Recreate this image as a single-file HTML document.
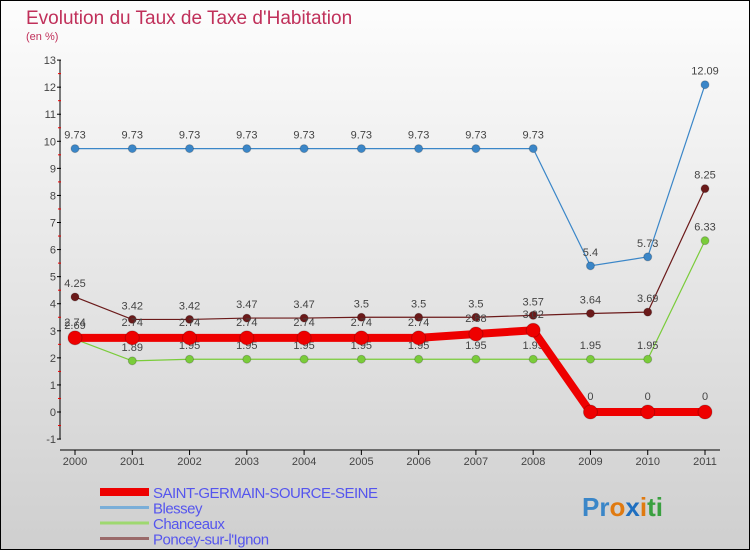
<!DOCTYPE html>
<html><head><meta charset="utf-8"><style>
body{margin:0}
#c{width:750px;height:550px;position:relative;box-sizing:border-box;border:1px solid #000;background:linear-gradient(#fdfdfd,#cfcfcf);font-family:"Liberation Sans",sans-serif;overflow:hidden}
</style></head><body>
<div id="c">
<svg width="750" height="550" style="position:absolute;left:-1px;top:-1px" font-family="Liberation Sans, sans-serif">
<text x="26" y="24" font-size="19" fill="#c0305a">Evolution du Taux de Taxe d'Habitation</text>
<text x="26" y="40" font-size="11" fill="#c0305a">(en %)</text>
<g id="axes"></g><g id="series"></g><g id="legend"></g>
<text x="582" y="516" font-size="26" font-weight="bold"><tspan fill="#3a86c8">Pr</tspan><tspan fill="#e07a10">o</tspan><tspan fill="#1f6fc0">x</tspan><tspan fill="#e07a10">i</tspan><tspan fill="#3aa040">ti</tspan></text>
</svg>
</div>
<script>
const years=[2000,2001,2002,2003,2004,2005,2006,2007,2008,2009,2010,2011];
const yTicks=[-1,0,1,2,3,4,5,6,7,8,9,10,11,12,13];
const sgss=[2.74,2.74,2.74,2.74,2.74,2.74,2.74,2.88,3.02,0,0,0];
const blessey=[9.73,9.73,9.73,9.73,9.73,9.73,9.73,9.73,9.73,5.4,5.73,12.09];
const chanceaux=[2.69,1.89,1.95,1.95,1.95,1.95,1.95,1.95,1.95,1.95,1.95,6.33];
const poncey=[4.25,3.42,3.42,3.47,3.47,3.5,3.5,3.5,3.57,3.64,3.69,8.25];
const names=["SAINT-GERMAIN-SOURCE-SEINE","Blessey","Chanceaux","Poncey-sur-l'Ignon"];
const NS="http://www.w3.org/2000/svg";
const X=i=>75+i*(630/(years.length-1));
const Y=v=>412-v*27.07;
function mk(t,a,p){const e=document.createElementNS(NS,t);for(const k in a)e.setAttribute(k,a[k]);p.appendChild(e);return e;}
const ax=document.getElementById('axes');
const yl=mk('line',{x1:60,y1:Y(13),x2:60,y2:Y(-1),stroke:'#000'},ax);


yTicks.forEach(v=>{
 mk('line',{x1:57,y1:Y(v),x2:61,y2:Y(v),stroke:'#000'},ax);
 if(v<13)mk('line',{x1:58,y1:Y(v+0.5),x2:61,y2:Y(v+0.5),stroke:'#e00'},ax);
 const t=mk('text',{x:56,y:Y(v)+4,'font-size':11,'text-anchor':'end',fill:'#444'},ax);t.textContent=v;
 
 
});
const xl=mk('line',{x1:60,y1:450,x2:720,y2:450,stroke:'#000'},ax);


years.forEach((y,i)=>{
 mk('line',{x1:X(i),y1:450,x2:X(i),y2:455,stroke:'#000'},ax);
 const t=mk('text',{x:X(i),y:465,'font-size':11,'text-anchor':'middle',fill:'#444'},ax);t.textContent=y;
 
 
});
const sg=document.getElementById('series');
function series(data,color,w,r,name,labelDy){
 const g=mk('g',{},sg);
 
 
 mk('polyline',{points:data.map((v,i)=>X(i)+','+Y(v)).join(' '),fill:'none',stroke:color,'stroke-width':w},g);
 data.forEach((v,i)=>{
  const c=mk('circle',{cx:X(i),cy:Y(v),r:r,fill:color,stroke:'rgba(0,0,0,0.2)'},g);
  
  
  const t=mk('text',{x:X(i),y:Y(v)+labelDy,'font-size':11,'text-anchor':'middle',fill:'#444'},g);t.textContent=v;
 });
}
series(blessey,'#3a86c8',1.2,4,'blessey-series',-10);
series(chanceaux,'#7acc3a',1.2,4,'chanceaux-series',-10);
series(poncey,'#6b1a1a',1.2,4,'poncey-series',-10);
series(sgss,'#ee0000',8,7,'sgss-series',-12);
const lg=document.getElementById('legend');
const cols=['#ee0000','#7aaed8','#9ed870','#9a6a6a'];const ws=[8,3,3,3];
names.forEach((n,i)=>{
 const y=492+i*15.5;
 const g=mk('g',{},lg);
 
 
 mk('line',{x1:100,y1:y,x2:149,y2:y,stroke:cols[i],'stroke-width':ws[i]},g);
 const t=mk('text',{x:153,y:y+6,'font-size':15,fill:'#5555ee','letter-spacing':'-0.5'},g);t.textContent=n;
});
</script>
</body></html>
